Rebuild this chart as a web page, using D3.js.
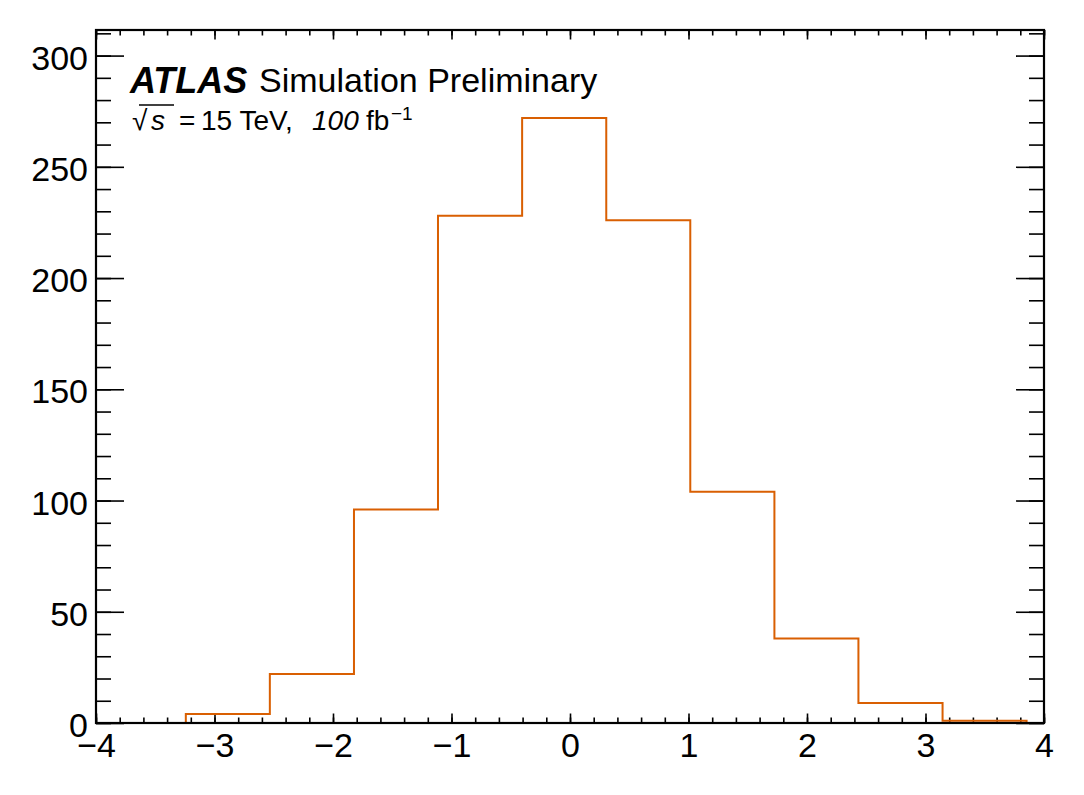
<!DOCTYPE html>
<html>
<head>
	<meta charset="utf-8">
	<title>ATLAS Simulation Preliminary</title>
	<script src="https://d3js.org/d3.v7.min.js"></script>
	<style>
		body { margin: 0; background: #fff; }
		svg text { font-family: "Liberation Sans", Arial, Helvetica, sans-serif; fill: #000; }
	</style>
</head>
<body>
<div id="chart"></div>
<script type="text/javascript">

	// histogram data (10 bins)
	var binEdges = [-3.242, -2.533, -1.823, -1.114, -0.404, 0.306, 1.015, 1.725, 2.434, 3.144, 3.853];
	var binCounts = [4, 22, 96, 228, 272, 226, 104, 38, 9, 1];

	// axis ticks
	var xMajorTicks = [-4, -3, -2, -1, 0, 1, 2, 3, 4];
	var yMajorTicks = [0, 50, 100, 150, 200, 250, 300];
	var xDomain = [-4, 4];
	var yDomain = [0, 311.5];

	var width = 1084, height = 795;
	// frame edges (note: "top" is reserved on window, so prefix)
	var fLeft = 96, fRight = 1044, fTop = 30, fBottom = 723;

	var svg = d3.select("#chart").append("svg")
		.attr("width", width)
		.attr("height", height);

	var x = d3.scaleLinear().domain(xDomain).range([fLeft, fRight]);
	var y = d3.scaleLinear().domain(yDomain).range([fBottom, fTop]);

	var xMinor = d3.range(-40, 41, 2).map(function(d){ return d / 10; });
	var yMinor = d3.range(0, 311, 10);

	// helper to style a tick group
	var styleAxis = function(g) {
		g.select(".domain").remove();
		g.selectAll("line").attr("stroke", "#000").attr("stroke-width", 1.6);
	};

	// minor ticks first
	svg.append("g").attr("transform", "translate(0," + fBottom + ")")
		.call(d3.axisBottom(x).tickValues(xMinor).tickSize(-5.5).tickFormat(""))
		.call(styleAxis);
	svg.append("g").attr("transform", "translate(0," + fTop + ")")
		.call(d3.axisTop(x).tickValues(xMinor).tickSize(-5.5).tickFormat(""))
		.call(styleAxis);
	svg.append("g").attr("transform", "translate(" + fLeft + ",0)")
		.call(d3.axisLeft(y).tickValues(yMinor).tickSize(-15).tickFormat(""))
		.call(styleAxis);
	svg.append("g").attr("transform", "translate(" + fRight + ",0)")
		.call(d3.axisRight(y).tickValues(yMinor).tickSize(-15).tickFormat(""))
		.call(styleAxis);

	// major ticks
	var xAxis = svg.append("g").attr("transform", "translate(0," + fBottom + ")")
		.call(d3.axisBottom(x).tickValues(xMajorTicks).tickSize(-9.5).tickPadding(10))
		.call(styleAxis);
	xAxis.selectAll("text").attr("font-size", 34).attr("fill", "#000");

	svg.append("g").attr("transform", "translate(0," + fTop + ")")
		.call(d3.axisTop(x).tickValues(xMajorTicks).tickSize(-9.5).tickFormat(""))
		.call(styleAxis);

	var yAxis = svg.append("g").attr("transform", "translate(" + fLeft + ",0)")
		.call(d3.axisLeft(y).tickValues(yMajorTicks).tickSize(-28).tickPadding(8))
		.call(styleAxis);
	yAxis.selectAll("text").attr("font-size", 34).attr("fill", "#000").attr("dy", "0.40em");

	svg.append("g").attr("transform", "translate(" + fRight + ",0)")
		.call(d3.axisRight(y).tickValues(yMajorTicks).tickSize(-28).tickFormat(""))
		.call(styleAxis);

	// step histogram
	var pts = [[binEdges[0], 0]];
	binCounts.forEach(function(c, i) {
		pts.push([binEdges[i], c]);
		pts.push([binEdges[i + 1], c]);
	});
	pts.push([binEdges[binEdges.length - 1], 0]);

	var line = d3.line()
		.x(function(d){ return x(d[0]); })
		.y(function(d){ return y(d[1]); });

	svg.append("path")
		.datum(pts)
		.attr("d", line)
		.attr("fill", "none")
		.attr("stroke", "#d95f02")
		.attr("stroke-width", 2);

	// frame
	svg.append("rect")
		.attr("x", fLeft).attr("y", fTop)
		.attr("width", fRight - fLeft).attr("height", fBottom - fTop)
		.attr("fill", "none")
		.attr("stroke", "#000")
		.attr("stroke-width", 2.2);

	// labels
	svg.append("text").attr("x", 130).attr("y", 93)
		.attr("font-size", 36).attr("font-weight", "bold").attr("font-style", "italic")
		.text("ATLAS");
	svg.append("text").attr("x", 259).attr("y", 92)
		.attr("font-size", 34)
		.text("Simulation Preliminary");

	var lumi = svg.append("g").attr("font-size", 28);
	lumi.append("text").attr("x", 132).attr("y", 130).text("\u221A");
	lumi.append("line").attr("x1", 139).attr("x2", 174).attr("y1", 105).attr("y2", 105)
		.attr("stroke", "#000").attr("stroke-width", 1.6);
	lumi.append("text").attr("x", 151).attr("y", 130).attr("font-style", "italic").text("s");
	lumi.append("text").attr("x", 179).attr("y", 130).text("=");
	lumi.append("text").attr("x", 201).attr("y", 130).text("15 TeV,");
	lumi.append("text").attr("x", 312).attr("y", 130).attr("font-style", "italic").text("100");
	lumi.append("text").attr("x", 366).attr("y", 130).text("fb");
	lumi.append("text").attr("x", 391).attr("y", 120).attr("font-size", 19).text("\u22121");

</script>
</body>
</html>
